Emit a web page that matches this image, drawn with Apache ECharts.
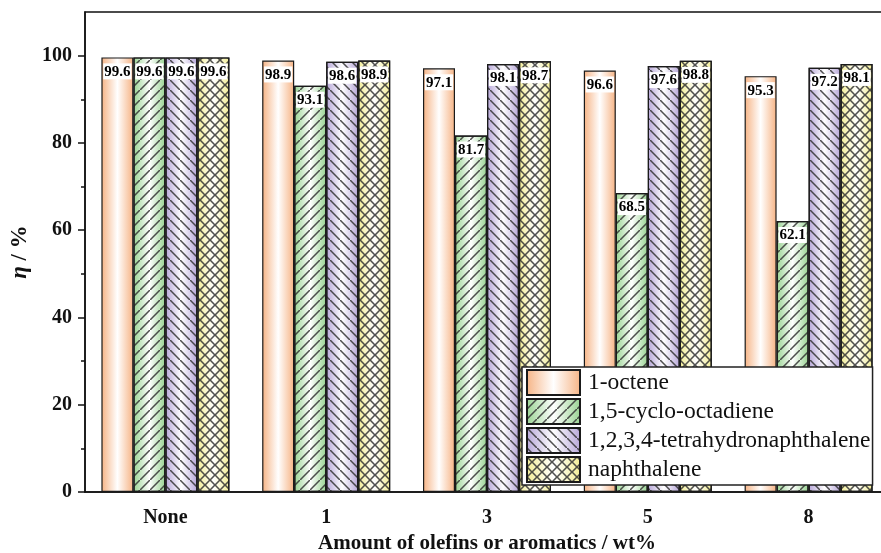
<!DOCTYPE html>
<html>
<head>
<meta charset="utf-8">
<script src="https://cdn.jsdelivr.net/npm/echarts@6/dist/echarts.min.js"></script>
<style>
  html, body { margin: 0; padding: 0; background: #fff; }
  #chart { width: 881px; height: 553px; }
</style>
</head>
<body>
<div id="chart"></div>
<script>
// Categories along the x axis
const categories = ['None', '1', '3', '5', '8'];

// Efficiency values (%) for each additive
const octene = [99.6, 98.9, 97.1, 96.6, 95.3];
const cyclooctadiene = [99.6, 93.1, 81.7, 68.5, 62.1];
const tetralin = [99.6, 98.6, 98.1, 97.6, 97.2];
const naphthalene = [99.6, 98.9, 98.7, 98.8, 98.1];

const seriesNames = ['1-octene', '1,5-cyclo-octadiene', '1,2,3,4-tetrahydronaphthalene', 'naphthalene'];
const seriesData = [octene, cyclooctadiene, tetralin, naphthalene];

// Y axis ticks
const majorTicks = [0, 20, 40, 60, 80, 100];
const minorTicks = [10, 30, 50, 70, 90];

const edgeColors = ['#f6b384', '#98d391', '#b6a6d8', '#f3ee94'];
const hatchColor = 'rgba(50,50,50,0.85)';
const hatchPaths = [
  null,
  'path://M0,10L0,8.9L8.9,0L10,0L10,1.1L1.1,10Z',
  'path://M0,0L1.1,0L10,8.9L10,10L8.9,10L0,1.1Z',
  'path://M0,0L1.1,0L5,3.9L8.9,0L10,0L10,1.1L6.1,5L10,8.9L10,10L8.9,10L5,6.1L1.1,10L0,10L0,8.9L3.9,5L0,1.1Z'
];

const serif = '"Liberation Serif", "Times New Roman", "DejaVu Serif", serif';

function barFill(c) {
  return {
    type: 'linear', x: 0, y: 0, x2: 1, y2: 0,
    colorStops: [
      { offset: 0, color: c },
      { offset: 0.5, color: '#ffffff' },
      { offset: 1, color: c }
    ]
  };
}

const series = seriesNames.map((name, i) => {
  const itemStyle = {
    color: barFill(edgeColors[i]),
    borderColor: '#1a1a1a',
    borderWidth: 1.2
  };
  if (hatchPaths[i]) {
    itemStyle.decal = {
      symbol: hatchPaths[i],
      symbolSize: 1,
      symbolKeepAspect: false,
      dashArrayX: [10, 0],
      dashArrayY: [10, 0],
      color: hatchColor
    };
  }
  return {
    name: name,
    type: 'bar',
    data: seriesData[i],
    barWidth: 32,
    barGap: '0%',
    itemStyle: itemStyle,
    label: {
      show: true,
      position: 'insideTop',
      distance: 6,
      fontFamily: serif,
      fontWeight: 'bold',
      fontSize: 15,
      color: '#000',
      backgroundColor: '#ffffff',
      padding: [1, 1, 0, 1],
      formatter: p => p.value.toFixed(1)
    },
    emphasis: { disabled: true }
  };
});

const chart = echarts.init(document.getElementById('chart'), null, { renderer: 'canvas' });

chart.setOption({
  animation: false,
  backgroundColor: '#ffffff',
  grid: {
    left: 85, right: -8, top: 12, bottom: 61,
    outerBoundsMode: 'none',
    show: true, borderColor: '#111', borderWidth: 1.5,
    backgroundColor: 'transparent'
  },
  legend: {
    left: 522, top: 367,
    orient: 'vertical',
    itemWidth: 53, itemHeight: 25, itemGap: 2,
    padding: [2, 2, 2, 4],
    backgroundColor: '#ffffff',
    borderColor: '#222', borderWidth: 1.5,
    icon: 'rect',
    textStyle: { fontFamily: serif, fontSize: 23.5, color: '#111', padding: [0, 0, 0, 3] },
    data: seriesNames
  },
  xAxis: {
    type: 'category',
    data: categories,
    axisLine: { lineStyle: { color: '#111', width: 1.5 } },
    axisTick: { alignWithLabel: true, length: 7, lineStyle: { color: '#111', width: 1.5 } },
    axisLabel: { fontFamily: serif, fontWeight: 'bold', fontSize: 20, color: '#111', margin: 16 },
    name: 'Amount of olefins or aromatics / wt%',
    nameLocation: 'middle',
    nameGap: 41,
    nameTextStyle: { fontFamily: serif, fontWeight: 'bold', fontSize: 21, color: '#111' }
  },
  yAxis: [
    {
      type: 'value', min: 0, max: 110,
      axisLine: { show: true, lineStyle: { color: '#111', width: 1.5 } },
      axisTick: { show: true, length: 7, customValues: majorTicks, lineStyle: { color: '#111', width: 1.5 } },
      axisLabel: { customValues: majorTicks, fontFamily: serif, fontWeight: 'bold', fontSize: 20, color: '#111', margin: 13 },
      splitLine: { show: false },
      name: '{i|η} / %',
      nameLocation: 'middle',
      nameGap: 44,
      nameRotate: 90,
      nameTextStyle: {
        fontFamily: serif, fontWeight: 'bold', fontSize: 23, color: '#111',
        rich: { i: { fontFamily: serif, fontWeight: 'bold', fontStyle: 'italic', fontSize: 23, color: '#111' } }
      }
    },
    {
      type: 'value', min: 0, max: 110, position: 'left',
      axisLine: { show: false },
      axisTick: { show: true, length: 4, customValues: minorTicks, lineStyle: { color: '#111', width: 1.5 } },
      axisLabel: { show: false },
      splitLine: { show: false }
    }
  ],
  series: series
});
</script>
</body>
</html>
